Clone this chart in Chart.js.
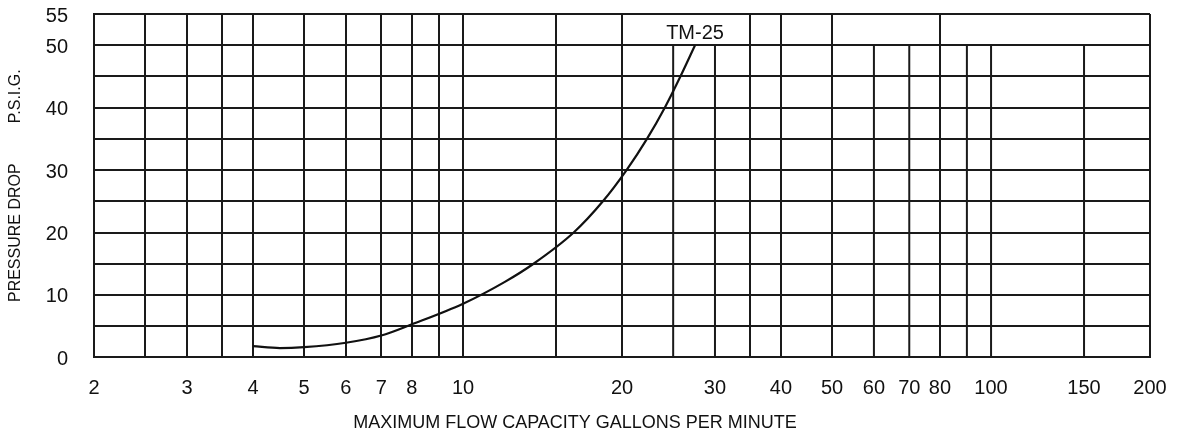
<!DOCTYPE html>
<html>
<head>
<meta charset="utf-8">
<script src="https://cdn.jsdelivr.net/npm/chart.js@4"></script>
<style>
  body { margin: 0; background: #fff; }
  #wrap { width: 1181px; height: 438px; }
</style>
</head>
<body>
<div id="wrap"><canvas id="flowChart"></canvas></div>
<script>
// curve TM-25
const flowGpm = [4, 4.5, 5, 6, 7, 8, 10, 12, 13.6, 16.2, 18.4, 20.4, 22.3, 24.1, 25.8, 27.5];
const pressurePsi = [1.8, 1.5, 1.65, 2.35, 3.5, 5.3, 8.6, 12.1, 15, 20, 25, 30, 35, 40, 45, 50];
const curveName = 'TM-25';

// x grid: lines running full height, and lines that stop at 50 psi
const xGridFull = [2, 2.5, 3, 3.5, 4, 5, 6, 7, 8, 9, 10, 15, 20, 35, 40, 50, 80, 200];
const xGridShort = [25, 30, 60, 70, 90, 100, 150];
const xLabels = [2, 3, 4, 5, 6, 7, 8, 10, 20, 30, 40, 50, 60, 70, 80, 100, 150, 200];
const yLabels = [0, 10, 20, 30, 40, 50, 55];
const shortTop = 50;

const xTitle = 'MAXIMUM FLOW CAPACITY GALLONS PER MINUTE';
const yTitle = 'PRESSURE DROP         P.S.I.G.';

const ink = '#111';
const gridColor = '#1a1a1a';
const fontFamily = '"Liberation Sans", Arial, sans-serif';

const extraLines = {
    id: 'extraLines',
    beforeDatasetsDraw(chart) {
        const { ctx, scales: { x, y } } = chart;
        ctx.save();
        ctx.strokeStyle = gridColor;
        ctx.lineWidth = 2;
        const yTop = y.getPixelForValue(shortTop);
        const yBottom = y.getPixelForValue(0);
        xGridShort.forEach(v => {
            const px = x.getPixelForValue(v);
            ctx.beginPath();
            ctx.moveTo(px, yTop);
            ctx.lineTo(px, yBottom);
            ctx.stroke();
        });
        ctx.restore();
    },
    afterDatasetsDraw(chart) {
        // curve name just above the end of the curve
        const pts = chart.getDatasetMeta(0).data;
        const last = pts[pts.length - 1];
        const ctx = chart.ctx;
        ctx.save();
        ctx.fillStyle = ink;
        ctx.font = '20px ' + fontFamily;
        ctx.textAlign = 'center';
        ctx.textBaseline = 'middle';
        ctx.fillText(curveName, last.x, last.y - 12);
        ctx.restore();
    }
};

new Chart(document.getElementById('flowChart'), {
    type: 'line',
    data: {
        datasets: [{
            label: curveName,
            data: flowGpm.map((f, i) => ({ x: f, y: pressurePsi[i] })),
            borderColor: ink,
            borderWidth: 2.2,
            pointRadius: 0,
            fill: false,
            cubicInterpolationMode: 'monotone'
        }]
    },
    options: {
        responsive: true,
        maintainAspectRatio: false,
        animation: false,
        layout: { padding: { top: 14, right: 31, left: 0, bottom: 0 } },
        plugins: {
            legend: { display: false },
            tooltip: { enabled: false },
            title: {
                display: true,
                position: 'bottom',
                text: xTitle,
                color: ink,
                font: { family: fontFamily, size: 18, weight: 'normal' },
                padding: { top: 12, bottom: 4 }
            }
        },
        scales: {
            x: {
                type: 'logarithmic',
                min: 2,
                max: 200,
                afterBuildTicks: s => { s.ticks = xGridFull.concat(xGridShort).sort((a, b) => a - b).map(v => ({ value: v })); },
                afterFit: s => { s.height = 43; s.paddingLeft = 0; s.paddingRight = 0; },
                ticks: {
                    autoSkip: false,
                    maxRotation: 0,
                    padding: 19,
                    color: ink,
                    font: { family: fontFamily, size: 20 },
                    callback: v => xLabels.includes(v) ? String(v) : ''
                },
                grid: {
                    drawTicks: false,
                    lineWidth: 2,
                    color: c => (c.tick && xGridShort.includes(c.tick.value)) ? 'rgba(0,0,0,0)' : gridColor
                },
                border: { display: true, color: gridColor, width: 2 }
            },
            y: {
                min: 0,
                max: 55,
                afterFit: s => { s.width = 94; s.paddingTop = 0; s.paddingBottom = 0; },
                ticks: {
                    stepSize: 5,
                    autoSkip: false,
                    padding: 26,
                    labelOffset: 2,
                    color: ink,
                    font: { family: fontFamily, size: 20 },
                    callback: v => yLabels.includes(v) ? String(v) : ''
                },
                grid: { drawTicks: false, lineWidth: 2, color: gridColor },
                border: { display: true, color: gridColor, width: 2 },
                title: {
                    display: true,
                    text: yTitle,
                    color: ink,
                    font: { family: fontFamily, size: 16 },
                    padding: { top: 6, bottom: 0 }
                }
            }
        }
    },
    plugins: [extraLines]
});
</script>
</body>
</html>
